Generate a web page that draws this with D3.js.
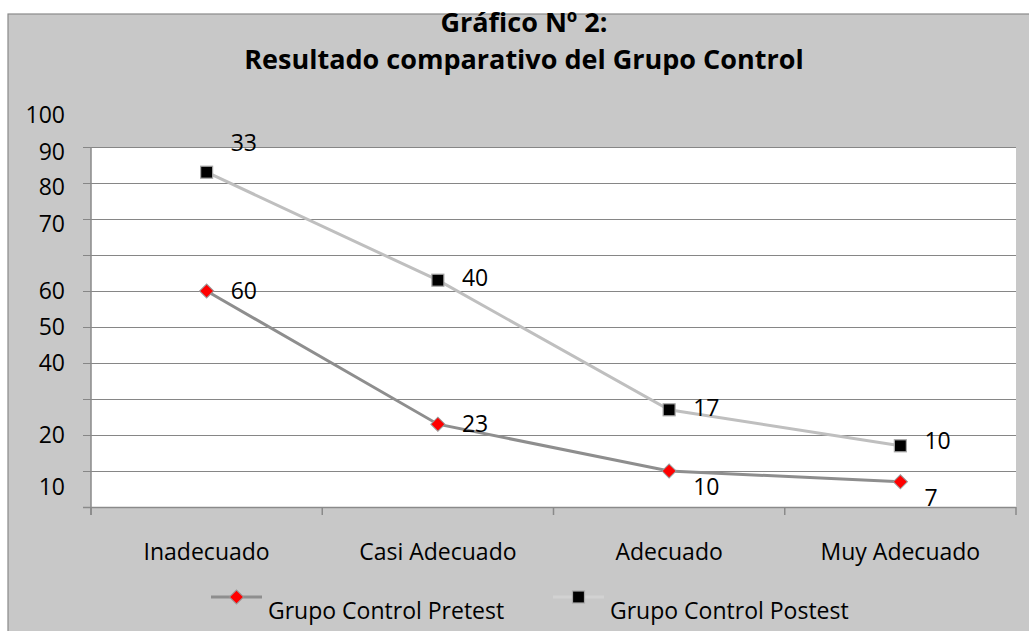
<!DOCTYPE html>
<html><head><meta charset="utf-8">
<script src="https://cdn.jsdelivr.net/npm/d3@7"></script>
<style>body{margin:0;background:#fff;} text{font-family:"Open Sans", sans-serif;}</style>
</head><body>
<svg id="c" width="1029" height="631"></svg>
<script>
const categories = ["Inadecuado", "Casi Adecuado", "Adecuado", "Muy Adecuado"];
const pretest = [60, 23, 10, 7];
const postest = [33, 40, 17, 10];
const seriesNames = ["Grupo Control Pretest", "Grupo Control Postest"];
const gridValues = [10, 20, 30, 40, 50, 60, 70, 80, 90, 100];
const yTickLabels = ["100", "90", "80", "70", "60", "50", "40", "20", "10"];
const yTickLabelAt = [109, 98.8, 88.9, 78.6, 60, 50, 40, 20.1, 5.6];
const titleLines = ["Gráfico Nº 2:", "Resultado comparativo del Grupo Control"];

const svg = d3.select("#c");
const W = 1029, H = 631;
const plot = {l: 91, r: 1016, t: 147, b: 507};
const FS = 23;

svg.append("rect").attr("x", 8).attr("y", 14).attr("width", W).attr("height", H)
  .attr("fill", "#c8c8c8").attr("stroke", "#8a8a8a").attr("stroke-width", 1.2);

const x = d3.scaleBand().domain(categories).range([plot.l, plot.r]).padding(0);
const y = d3.scaleLinear().domain([0, 100]).range([plot.b, plot.t]);

svg.append("rect").attr("x", plot.l).attr("y", plot.t).attr("width", plot.r - plot.l)
  .attr("height", plot.b - plot.t).attr("fill", "#fff");

// title (two separate text lines)
svg.append("g").selectAll("text").data(titleLines).join("text")
  .attr("text-anchor", "middle").attr("font-weight", "bold")
  .attr("font-size", 27).attr("fill", "#000")
  .attr("x", 524).attr("y", (d, i) => 32 + i * 37).text(d => d);

// gridlines
svg.append("g").selectAll("line").data(gridValues).join("line")
  .attr("x1", plot.l - 8).attr("x2", plot.r)
  .attr("y1", d => Math.round(y(d)) + 0.5).attr("y2", d => Math.round(y(d)) + 0.5)
  .attr("stroke", "#868686").attr("stroke-width", 1.2);

// left axis
svg.append("line").attr("x1", plot.l).attr("x2", plot.l).attr("y1", plot.t).attr("y2", plot.b + 8)
  .attr("stroke", "#8a8a8a").attr("stroke-width", 1.5);
// bottom axis
const edges = categories.map(c => x(c)).concat([x(categories[categories.length - 1]) + x.bandwidth()]);
svg.append("line").attr("x1", plot.l - 8).attr("x2", plot.r).attr("y1", plot.b + 0.5).attr("y2", plot.b + 0.5)
  .attr("stroke", "#8a8a8a").attr("stroke-width", 1.5);
svg.append("g").selectAll("line").data(edges).join("line")
  .attr("x1", d => d).attr("x2", d => d).attr("y1", plot.b).attr("y2", plot.b + 8)
  .attr("stroke", "#8a8a8a").attr("stroke-width", 1.5);

// category labels
svg.append("g").selectAll("text").data(categories).join("text")
  .attr("x", d => x(d) + x.bandwidth() / 2).attr("y", 552).attr("dy", "0.36em")
  .attr("text-anchor", "middle").attr("font-size", FS).attr("fill", "#000").text(d => d);

// y labels
svg.append("g").selectAll("text").data(yTickLabels).join("text")
  .attr("x", 65).attr("y", (d, i) => y(yTickLabelAt[i])).attr("dy", "0.36em")
  .attr("text-anchor", "end").attr("font-size", FS).attr("fill", "#000").text(d => d);

// series (stacked line)
const stackedPost = postest.map((v, i) => v + pretest[i]);
const cx = c => x(c) + x.bandwidth() / 2;
const line = d3.line().x(d => cx(d.c)).y(d => y(d.v));
const preData = categories.map((c, i) => ({c, v: pretest[i], lab: pretest[i]}));
const postData = categories.map((c, i) => ({c, v: stackedPost[i], lab: postest[i]}));

const preColor = "#8e8e8e", postColor = "#bfbfbf";
svg.append("path").datum(preData).attr("d", line).attr("fill", "none")
  .attr("stroke", preColor).attr("stroke-width", 3);
svg.append("path").datum(postData).attr("d", line).attr("fill", "none")
  .attr("stroke", postColor).attr("stroke-width", 3);

function drawDiamond(g, px, py) {
  g.append("rect").attr("x", px - 5).attr("y", py - 5).attr("width", 10).attr("height", 10)
    .attr("transform", `rotate(45,${px},${py})`)
    .attr("fill", "#ff0000").attr("stroke", "#9a9a9a").attr("stroke-width", 1);
}
function drawSquare(g, px, py) {
  g.append("rect").attr("x", px - 6).attr("y", py - 6).attr("width", 12).attr("height", 12)
    .attr("fill", "#000").attr("stroke", "#a8a8a8").attr("stroke-width", 1.2);
}
const gm = svg.append("g");
preData.forEach(d => drawDiamond(gm, cx(d.c), y(d.v)));
postData.forEach(d => drawSquare(gm, cx(d.c), y(d.v)));

// data labels
svg.append("defs").append("clipPath").attr("id", "clipLab")
  .append("rect").attr("x", 0).attr("y", 0).attr("width", W).attr("height", plot.b);
const gl = svg.append("g").attr("clip-path", "url(#clipLab)")
  .attr("font-size", FS).attr("fill", "#000");
const preBelow = [false, false, true, true];
preData.forEach((d, i) => {
  gl.append("text").attr("x", cx(d.c) + 24).attr("y", y(d.v) + (preBelow[i] ? 16 : 0))
    .attr("dy", "0.36em").text(d.lab);
});
postData.forEach((d, i) => {
  gl.append("text").attr("x", cx(d.c) + 24).attr("y", y(d.v) + (i === 0 ? -29 : (i === 3 ? -5 : -2)))
    .attr("dy", "0.36em").text(d.lab);
});

// legend
const lg = svg.append("g");
const legendX = [211, 553];
seriesNames.forEach((name, i) => {
  const lx = legendX[i];
  lg.append("line").attr("x1", lx).attr("x2", lx + 51).attr("y1", 597).attr("y2", 597)
    .attr("stroke", i === 0 ? preColor : "#d2d2d2").attr("stroke-width", 3);
  if (i === 0) drawDiamond(lg, lx + 25.5, 597); else drawSquare(lg, lx + 25.5, 597);
  lg.append("text").attr("x", lx + 57).attr("y", 611).attr("dy", "0.36em")
    .attr("font-size", FS).attr("fill", "#000").text(name);
});
</script>
</body></html>
